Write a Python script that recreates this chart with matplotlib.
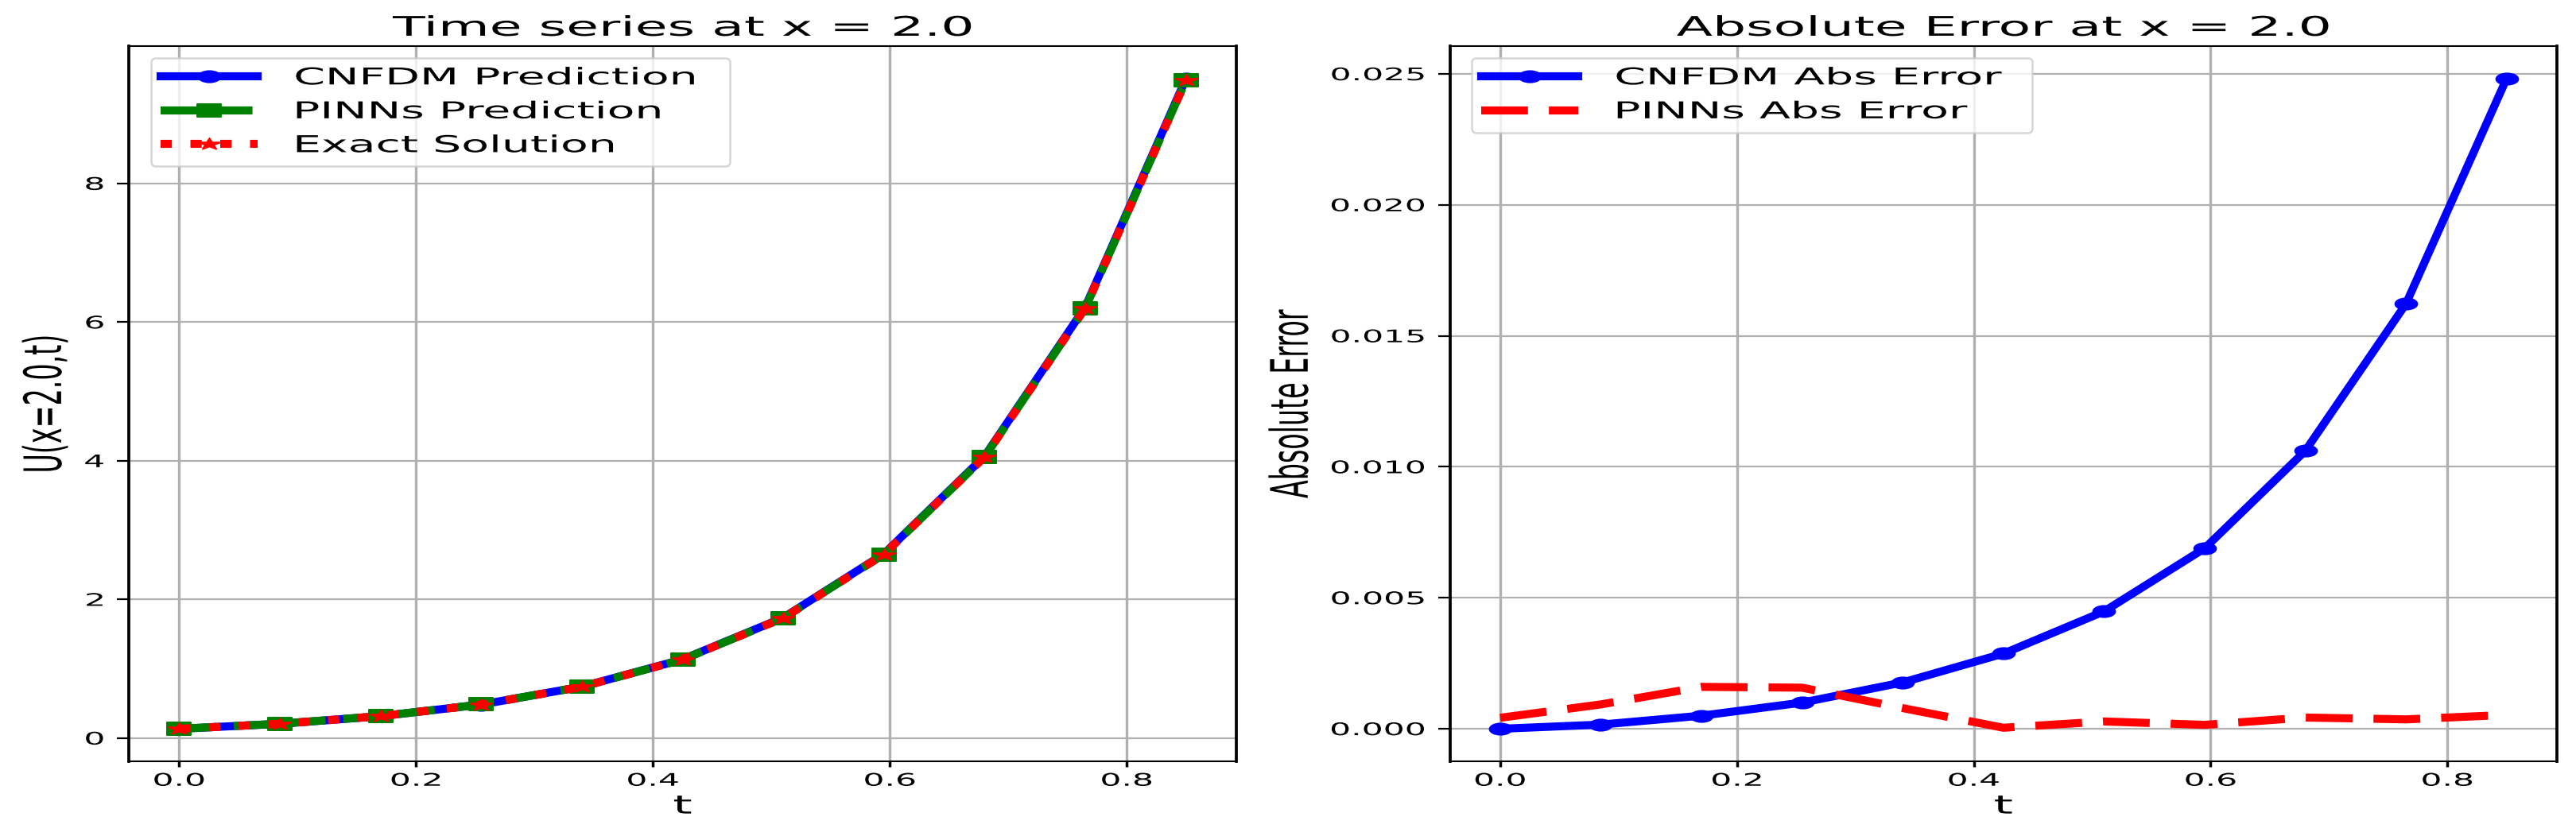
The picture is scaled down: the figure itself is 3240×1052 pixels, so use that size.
import numpy as np
import matplotlib
matplotlib.use("Agg")
import matplotlib.pyplot as plt
from matplotlib.patheffects import AbstractPathEffect
from matplotlib.transforms import Affine2D
from matplotlib.path import Path

# ---------------- data ----------------
t = [0.0, 0.085, 0.17, 0.255, 0.34, 0.425, 0.51, 0.595, 0.68, 0.765, 0.85]
u_cnfdm = [0.135, 0.207, 0.317, 0.485, 0.743, 1.136, 1.738, 2.658, 4.066, 6.219, 9.512]
u_pinns = [0.135, 0.208, 0.318, 0.486, 0.742, 1.133, 1.733, 2.651, 4.056, 6.203, 9.488]
u_exact = [0.135, 0.207, 0.317, 0.484, 0.741, 1.133, 1.733, 2.651, 4.055, 6.203, 9.488]
err_cnfdm = [0.0, 0.00016, 0.0005, 0.0010, 0.00177, 0.00287, 0.00448, 0.00689, 0.01061, 0.01622, 0.02482]
err_pinns = [0.00042, 0.00093, 0.0016, 0.00157, 0.00079, 0.00004, 0.00028, 0.00015, 0.00043, 0.00036, 0.00053]

title_left = "Time series at x = 2.0"
title_right = "Absolute Error at x = 2.0"
ylabel_left = "U(x=2.0,t)"
ylabel_right = "Absolute Error"
xlabel = "t"
labels_left = ["CNFDM Prediction", "PINNs Prediction", "Exact Solution"]
labels_right = ["CNFDM Abs Error", "PINNs Abs Error"]

# ---------------- style helpers ----------------
S = 1.95  # horizontal stretch of the reference rendering


class HStretch(AbstractPathEffect):
    """Draw text stretched horizontally about an anchor of its ink box."""

    def __init__(self, sx, anchor="center"):
        super().__init__()
        self._sx = sx
        self._anchor = anchor

    def draw_path(self, renderer, gc, tpath, affine, rgbFace=None):
        ext = tpath.get_extents(affine)
        if self._anchor == "left":
            cx = ext.x0
        elif self._anchor == "right":
            cx = ext.x1
        else:
            cx = 0.5 * (ext.x0 + ext.x1)
        st = affine + Affine2D().translate(-cx, 0).scale(self._sx, 1.0).translate(cx, 0)
        renderer.draw_path(gc, tpath, st, rgbFace)


def squash(path):
    return Path(path.vertices * np.array([1.0, 1.0 / S]), path.codes)


m_circle = squash(Path.unit_circle())
m_square = squash(Path([[-1, -1], [1, -1], [1, 1], [-1, 1], [-1, -1]],
                       [Path.MOVETO, Path.LINETO, Path.LINETO, Path.LINETO, Path.CLOSEPOLY]))
m_star = squash(Path.unit_regular_star(5, 0.381966))

LW = 7.3
GRID = "#b0b0b0"

fig = plt.figure(figsize=(32.4, 10.52), dpi=100)
ax1 = fig.add_axes([0.05, 0.08935, 0.42994, 0.85551])
ax2 = fig.add_axes([0.56281, 0.08935, 0.42978, 0.85551])

# ---------------- left panel ----------------
ax1.plot(t, u_cnfdm, color="blue", linestyle="-", lw=LW, marker=m_circle, ms=20,
         mew=1.4, label=labels_left[0])
ax1.plot(t, u_pinns, color="green", linestyle=(0, (4.6, 2.2)), lw=LW, marker=m_square, ms=22,
         mew=1.4, label=labels_left[1])
ax1.plot(t, u_exact, color="red", linestyle=(0, (1.4, 2.3)), lw=LW, marker=m_star, ms=20,
         mew=1.4, label=labels_left[2])

# ---------------- right panel ----------------
ax2.plot(t, err_cnfdm, color="blue", linestyle="-", lw=LW, marker=m_circle, ms=20,
         mew=1.4, label=labels_right[0])
ax2.plot(t, err_pinns, color="red", linestyle=(0, (5.8, 2.6)), lw=LW, label=labels_right[1])

legs = []
for ax, title, yl, ylx, lx0, lw_ in [(ax1, title_left, ylabel_left, -0.0632, 0.0096, 0.5436),
                                     (ax2, title_right, ylabel_right, -0.1318, 0.0093, 0.5273)]:
    ax.set_title(title, fontsize=24.5, pad=9.4)
    ax.set_xlabel(xlabel, fontsize=23)
    ax.xaxis.set_label_coords(0.5, -0.0463)
    ax.set_ylabel(yl, fontsize=24)
    ax.yaxis.set_label_coords(ylx, 0.5)
    ax.set_xticks([0.0, 0.2, 0.4, 0.6, 0.8])
    ax.tick_params(axis="x", length=5.3, width=2.5, pad=5.3, labelsize=15.7)
    ax.tick_params(axis="y", length=10.8, width=1.6, pad=11.5, labelsize=15.7)
    ax.xaxis.grid(True, color=GRID, lw=2.4)
    ax.yaxis.grid(True, color=GRID, lw=1.6)
    for sp in ["left", "right"]:
        ax.spines[sp].set_linewidth(2.7)
    for sp in ["top", "bottom"]:
        ax.spines[sp].set_linewidth(1.5)
    leg = ax.legend(loc="upper left", bbox_to_anchor=(lx0, 0.0, lw_, 1.0), mode="expand",
                    fontsize=21, handlelength=4.2, handletextpad=1.6, borderpad=0.4,
                    labelspacing=0.5, borderaxespad=0.5)
    leg.get_frame().set_linewidth(1.8)
    legs.append(leg)

ax1.set_yticks([0, 2, 4, 6, 8])
ax2.set_yticks([0.0, 0.005, 0.010, 0.015, 0.020, 0.025])

fig.canvas.draw()
for ax, leg in zip([ax1, ax2], legs):
    for lab in ax.get_xticklabels():
        lab.set_path_effects([HStretch(S, "center")])
    for lab in ax.get_yticklabels():
        lab.set_path_effects([HStretch(S, "right")])
    ax.title.set_path_effects([HStretch(S, "center")])
    ax.xaxis.label.set_path_effects([HStretch(S, "center")])
    ax.yaxis.label.set_path_effects([HStretch(S, "center")])
    for txt in leg.get_texts():
        txt.set_path_effects([HStretch(S, "left")])

fig.savefig("out.png", dpi=100)
